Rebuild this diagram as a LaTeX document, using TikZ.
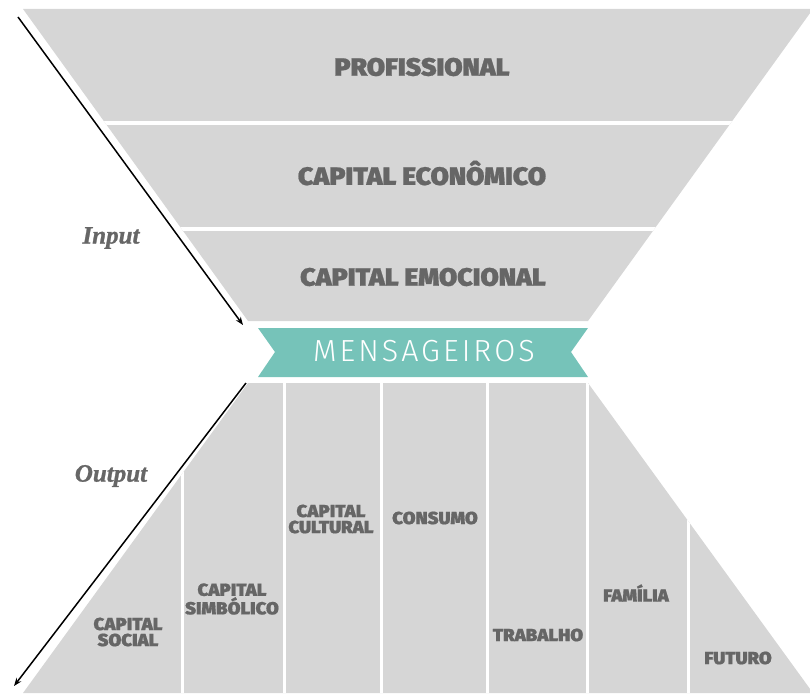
\documentclass[tikz,border=0pt]{standalone}
\usepackage{fontspec}
\setmainfont{Fira Sans}
\newfontfamily\heavyfont{Fira Sans Black}[FakeStretch=1.06, FakeBold=0.8]
\newfontfamily\lightfont{Fira Sans Light}[LetterSpace=10]
\newfontfamily\flowfont{Liberation Serif}[FakeBold=1]
\usepackage{xcolor}
\usetikzlibrary{arrows.meta}

\definecolor{funnelgray}{HTML}{D6D6D6}
\definecolor{labelgray}{HTML}{666666}
\definecolor{bannerteal}{HTML}{76C3B9}

\begin{document}
\begin{tikzpicture}[
    x=1pt, y=-1pt,
    >={Stealth[length=8pt, width=6pt]},
    line width=1.5pt,
    band/.style={font=\heavyfont\fontsize{25}{25}\selectfont, text=labelgray},
    col/.style={font=\heavyfont\fontsize{17.5}{16}\selectfont, text=labelgray, align=center},
    flow/.style={font=\flowfont\bfseries\itshape\fontsize{25}{25}\selectfont, text=labelgray}
]

\useasboundingbox (0,0) rectangle (810,693);

%-------------------------
% Upper funnel
%-------------------------
\coordinate (TL) at (23,9);
\coordinate (TR) at (813,9);
\coordinate (BL) at (248,321);
\coordinate (BR) at (588,321);

\begin{scope}
    \clip (TL) -- (TR) -- (BR) -- (BL) -- cycle;
    \fill[funnelgray] (0,0) rectangle (820,330);
    % gaps between the bands
    \fill[white] (0,121) rectangle (820,125);
    \fill[white] (0,227) rectangle (820,231);
\end{scope}

\node[band] (prof) at (422,67) {PROFISSIONAL};
\node[band] (econ) at (422,173) {CAPITAL ECONÔMICO};
\node[band] (emoc) at (423,277) {CAPITAL EMOCIONAL};


%-------------------------
% Banner
%-------------------------
\fill[bannerteal] (258,328) -- (588,328) -- (571,352) -- (588,377)
    -- (258,377) -- (275,352) -- cycle;
\node[font=\lightfont\fontsize{30.5}{30.5}\selectfont, text=white] (msg)
    at (424,351) {MENSAGEIROS};


%-------------------------
% Lower funnel
%-------------------------
\coordinate (tl) at (248,383);
\coordinate (tr) at (588,383);
\coordinate (bl) at (23,693);
\coordinate (br) at (813,693);

\begin{scope}
    \clip (tl) -- (tr) -- (br) -- (bl) -- cycle;
    \fill[funnelgray] (0,380) rectangle (820,700);
    % column separators
    \foreach \x in {182,284,381,487,587,688}
        \fill[white] (\x-1.5,380) rectangle (\x+1.5,700);
\end{scope}

\node[col] (social) at (128,632) {CAPITAL\\SOCIAL};
\node[col] (simb)   at (232,599) {CAPITAL\\SIMBÓLICO};
\node[col] (cult)   at (331,519) {CAPITAL\\CULTURAL};
\node[col] (cons)   at (435,518) {CONSUMO};
\node[col] (trab)   at (538,635) {TRABALHO};
\node[col] (fam)    at (636,593) {FAMÍLIA};
\node[col] (fut)    at (738,658) {FUTURO};


%-------------------------
% Input / output arrows
%-------------------------
\coordinate (inS) at (18,17);
\coordinate (inE) at (243,325);
\draw[->] (inS) -- (inE);
\node[flow] (input) at (111,238) {Input};

\coordinate (outS) at (246,383);
\coordinate (outE) at (14,686);
\draw[->] (outS) -- (outE);
\node[flow] (output) at (111,476) {Output};

\end{tikzpicture}
\end{document}
